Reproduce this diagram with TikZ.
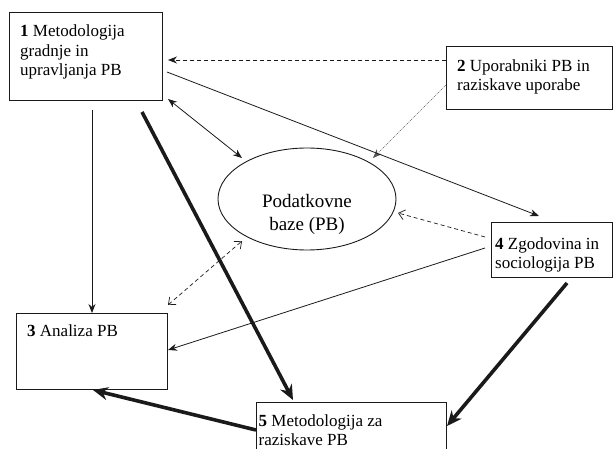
\documentclass[tikz,border=0pt]{standalone}
\usepackage{fontspec}
\setmainfont{Liberation Serif}
\usepackage{tikz}
\usetikzlibrary{
  arrows.meta,
  shapes.geometric,
  positioning,
  calc
}
\definecolor{pbLine}{HTML}{1A1A1A}
\definecolor{pbDot}{HTML}{555555}
\tikzset{
  pbbox/.style={
    draw=pbLine, line width=1pt, rectangle, outer sep=0pt, anchor=north west
  },
  pbtext/.style={
    anchor=north west, align=left, inner xsep=11pt, inner ysep=12pt,
    font=\fontsize{17}{19.5}\selectfont
  },
  pbell/.style={
    draw=pbLine, line width=0.9pt, ellipse, outer sep=0pt,
    minimum width=178pt, minimum height=102pt
  },
  flow/.style={-{Stealth[length=9pt, width=7pt]}, line width=0.8pt, pbLine},
  twoway/.style={{Stealth[length=9pt, width=7pt]}-{Stealth[length=9pt, width=7pt]}, line width=0.8pt, pbLine},
  heavy/.style={-{Stealth[length=15pt, width=13pt]}, line width=3.6pt, pbLine},
  hint/.style={-{Stealth[length=9pt, width=7pt]}, line width=0.8pt, pbLine, dash pattern=on 4pt off 3pt},
  openhint/.style={-{Straight Barb[length=6pt, width=10pt]}, line width=0.7pt, pbLine, dash pattern=on 4pt off 3pt},
  twohint/.style={{Straight Barb[length=6pt, width=10pt]}-{Straight Barb[length=6pt, width=10pt]}, line width=0.7pt, pbLine, dash pattern=on 4pt off 3pt},
  faint/.style={-{Stealth[length=9pt, width=7pt]}, line width=0.5pt, pbDot, dash pattern=on 1pt off 1pt}
}

\begin{document}
\begin{tikzpicture}[x=1pt, y=-1pt]
  \useasboundingbox (0,0) rectangle (613,449);
  \clip (0,0) rectangle (613,449);

  % boxes
  \node[pbbox, minimum width=153pt, minimum height=88pt,
    label={[pbtext]north west:{\textbf{1} Metodologija\\gradnje in\\upravljanja PB}}] (m1) at (9,13) {};
  \node[pbbox, minimum width=166pt, minimum height=63pt,
    label={[pbtext, inner ysep=12.5pt]north west:{\textbf{2} Uporabniki PB in\\raziskave uporabe}}] (m2) at (446,47) {};
  \node[pbbox, minimum width=151pt, minimum height=76pt,
    label={[pbtext, inner ysep=11.5pt]north west:{\textbf{3} Analiza PB}}] (m3) at (16,313) {};
  \node[pbbox, minimum width=121pt, minimum height=54pt,
    label={[pbtext, inner xsep=4pt, inner ysep=14.5pt]north west:{\textbf{4} Zgodovina in\\sociologija PB}}] (m4) at (491,223) {};
  \node[pbbox, minimum width=190pt, minimum height=60pt,
    label={[pbtext, inner xsep=2.5pt, inner ysep=1pt, yshift=-11.5pt]north west:{\textbf{5} Metodologija za\\raziskave PB}}] (m5) at (256,402) {};

  % database
  \node[pbell, label={[align=center, font=\fontsize{19}{23}\selectfont, yshift=-15pt]center:{Podatkovne\\baze (PB)}}] (pb) at (307,199) {};

  % connectors
  \draw[hint] ([shift={(0,13)}]m2.north west) -- ([shift={(6,47)}]m1.north east);
  \draw[faint] ([shift={(0,38)}]m2.north west) -- ([shift={(66,-41)}]pb.center);
  \draw[flow] ([shift={(5,59)}]m1.north east) -- ([shift={(48,-7)}]m4.north west);
  \draw[twoway] ([shift={(6,-2)}]m1.south east) -- ([shift={(-65,-41)}]pb.center);
  \draw[openhint] ([shift={(-6,14)}]m4.north west) -- ([shift={(91,14)}]pb.center);
  \draw[twohint] ([shift={(1,-8)}]m3.north east) -- ([shift={(-65,42)}]pb.center);
  \draw[flow] ([shift={(-6,25)}]m4.north west) -- ([shift={(1,37)}]m3.north east);
  \draw[flow] ([shift={(83,9)}]m1.south west) -- ([shift={(76,0)}]m3.north west);
  \draw[heavy] ([shift={(133,11)}]m1.south west) -- ([shift={(37,-2)}]m5.north west);
  \draw[heavy] ([shift={(76,6)}]m4.south west) -- ([shift={(1,24)}]m5.north east);
  \draw[heavy] ([shift={(0,28)}]m5.north west) -- ([shift={(77,1)}]m3.south west);
\end{tikzpicture}
\end{document}
